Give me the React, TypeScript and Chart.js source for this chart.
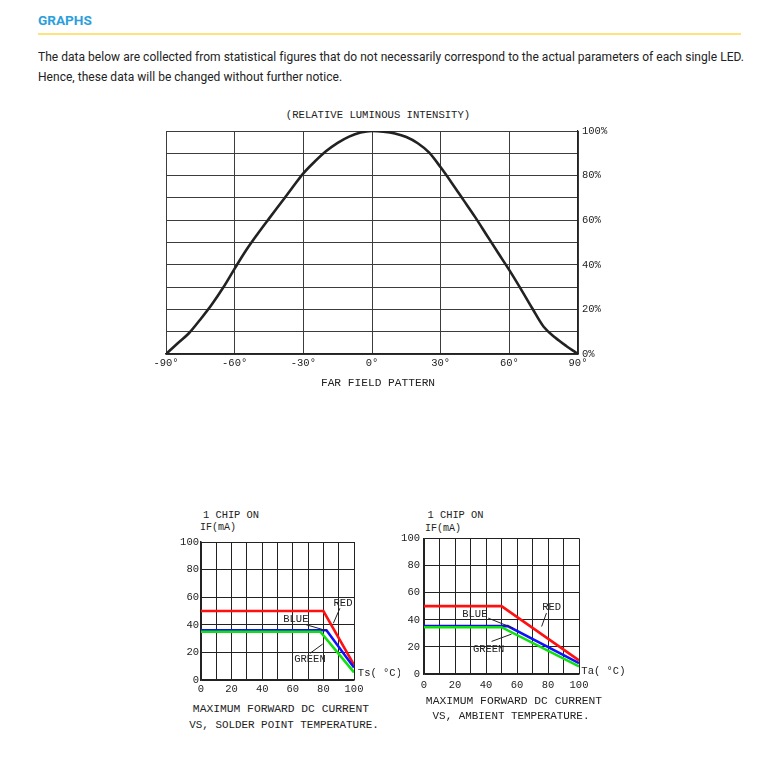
import React, { useEffect, useRef } from "react";
import { Chart, registerables } from "chart.js";

Chart.register(...registerables);

// ---------- DATA ----------
// Far field pattern (relative luminous intensity, %)
const farAngles = [-90, -85, -80, -75, -70, -65, -60, -55, -50, -45, -40, -35, -30, -25, -20, -15, -10, -5, 0,
  5, 10, 15, 20, 25, 30, 35, 40, 45, 50, 55, 60, 65, 70, 75, 80, 85, 90];
const farIntensity = [0, 4.7, 9.3, 15.5, 22.2, 29.8, 38.3, 46.5, 53.8, 60.7, 67.5, 74.3, 81, 86.3, 91, 94.7, 97.5, 99.3, 100,
  99.7, 98.9, 97.3, 94.5, 90.3, 83.7, 76.5, 69, 61.5, 53.5, 45.5, 37.6, 29.2, 20.5, 12.2, 7.4, 3.5, 0];
const farXTicks = [-90, -60, -30, 0, 30, 60, 90];
const farYLabelled = [0, 20, 40, 60, 80, 100];

// Max forward DC current vs solder point temperature (Ts, °C -> mA)
const tsRedX = [0, 80, 100];
const tsRedY = [50, 50, 11];
const tsBlueX = [0, 82, 100];
const tsBlueY = [36, 36, 9];
const tsGreenX = [0, 78, 100];
const tsGreenY = [35, 35, 5.5];

// Max forward DC current vs ambient temperature (Ta, °C -> mA)
const taRedX = [0, 50, 100];
const taRedY = [50, 50, 10];
const taBlueX = [0, 54, 100];
const taBlueY = [35.3, 35.3, 8];
const taGreenX = [0, 50, 100];
const taGreenY = [34.5, 34.5, 5.6];

const tempXLabelled = [0, 20, 40, 60, 80, 100];

// ---------- STYLE ----------
const MONO = '"Liberation Mono", "DejaVu Sans Mono", monospace';
const INK = "#222";
const RED = "#ff1010";
const BLUE = "#1010ff";
const GREEN = "#10e010";

const pts = (xs: number[], ys: number[]) => xs.map((x, i) => ({ x, y: ys[i] }));

const annotPlugin = {
  id: "annot",
  afterDatasetsDraw(chart: any, _a: any, opts: any) {
    const { ctx } = chart;
    const sx = chart.scales.x;
    const sy = chart.scales.y;
    ctx.save();
    ctx.strokeStyle = INK;
    ctx.fillStyle = INK;
    ctx.lineWidth = 1;
    for (const l of opts.leaders || []) {
      ctx.beginPath();
      ctx.moveTo(sx.getPixelForValue(l[0]), sy.getPixelForValue(l[1]));
      ctx.lineTo(sx.getPixelForValue(l[2]), sy.getPixelForValue(l[3]));
      ctx.stroke();
    }
    ctx.font = opts.font || `10.5px ${MONO}`;
    ctx.textBaseline = "middle";
    for (const t of opts.texts || []) {
      ctx.textAlign = t.align || "center";
      ctx.fillText(t.text, sx.getPixelForValue(t.x), sy.getPixelForValue(t.y));
    }
    ctx.restore();
  },
};

function useChart(make: () => any) {
  const ref = useRef<HTMLCanvasElement | null>(null);
  useEffect(() => {
    if (!ref.current) return;
    const c = new Chart(ref.current, make());
    return () => c.destroy();
  }, []);
  return ref;
}

function FarField() {
  const ref = useChart(() => ({
    type: "line",
    data: {
      datasets: [
        {
          data: pts(farAngles, farIntensity),
          borderColor: INK,
          borderWidth: 2.6,
          pointRadius: 0,
          cubicInterpolationMode: "monotone",
          fill: false,
        },
      ],
    },
    options: {
      responsive: false,
      animation: false,
      events: [],
      layout: { padding: { left: 26, top: 11, right: 0, bottom: 0 } },
      plugins: { legend: { display: false }, tooltip: { enabled: false } },
      scales: {
        x: {
          type: "linear",
          min: -90,
          max: 90,
          afterBuildTicks: (s: any) => {
            s.ticks = farXTicks.map((v) => ({ value: v }));
          },
          afterFit: (s: any) => {
            s.height = 31;
          },
          ticks: {
            autoSkip: false,
            maxRotation: 0,
            padding: 3,
            color: INK,
            font: { family: MONO, size: 10.5 },
            callback: (v: any) => `${v}°`,
          },
          grid: { color: "#3c3c3c", lineWidth: 1, drawTicks: false },
          border: { color: INK, width: 1.5 },
        },
        y: {
          position: "right",
          min: 0,
          max: 100,
          afterFit: (s: any) => {
            s.width = 42;
          },
          ticks: {
            stepSize: 10,
            padding: 4,
            color: INK,
            font: { family: MONO, size: 10.5 },
            callback: (v: any) => (farYLabelled.includes(v) ? `${v}%` : ""),
          },
          grid: { color: "#3c3c3c", lineWidth: 1, drawTicks: false },
          border: { color: INK, width: 1.2 },
        },
      },
    },
  }));
  return <canvas ref={ref} width={480} height={265} style={{ position: "absolute", left: 140, top: 120 }} />;
}

function Derating(props: {
  left: number;
  top: number;
  width: number;
  height: number;
  pad: { left: number; top: number; right: number };
  yw: number;
  xh: number;
  xPad: number;
  yPad: number;
  red: any[];
  blue: any[];
  green: any[];
  annot: any;
}) {
  const p = props;
  const ref = useChart(() => ({
    type: "line",
    data: {
      datasets: [
        { data: p.red, borderColor: RED, borderWidth: 2.6, pointRadius: 0, order: 2, tension: 0 },
        { data: p.blue, borderColor: BLUE, borderWidth: 2.6, pointRadius: 0, order: 1, tension: 0 },
        { data: p.green, borderColor: GREEN, borderWidth: 2.6, pointRadius: 0, order: 0, tension: 0 },
      ],
    },
    options: {
      responsive: false,
      animation: false,
      events: [],
      layout: { padding: { left: p.pad.left, top: p.pad.top, right: p.pad.right, bottom: 0 } },
      plugins: { legend: { display: false }, tooltip: { enabled: false }, annot: p.annot },
      scales: {
        x: {
          type: "linear",
          min: 0,
          max: 100,
          afterFit: (s: any) => {
            s.height = p.xh;
          },
          ticks: {
            stepSize: 10,
            autoSkip: false,
            maxRotation: 0,
            padding: p.xPad,
            color: INK,
            font: { family: MONO, size: 10.5 },
            callback: (v: any) => (tempXLabelled.includes(v) ? `${v}` : ""),
          },
          grid: { color: INK, lineWidth: 1, drawTicks: false },
          border: { color: INK, width: 1.5 },
        },
        y: {
          min: 0,
          max: 100,
          afterFit: (s: any) => {
            s.width = p.yw;
          },
          ticks: {
            stepSize: 20,
            padding: p.yPad,
            color: INK,
            font: { family: MONO, size: 10.5 },
          },
          grid: { color: INK, lineWidth: 1, drawTicks: false },
          border: { color: INK, width: 1.5 },
        },
      },
    },
    plugins: [annotPlugin],
  }));
  return (
    <canvas
      ref={ref}
      width={p.width}
      height={p.height}
      style={{ position: "absolute", left: p.left, top: p.top }}
    />
  );
}

const T = (props: { x: number; y: number; size?: number; children: any; align?: string }) => (
  <div
    style={{
      position: "absolute",
      left: props.x,
      top: props.y,
      transform: props.align === "left" ? "translate(0,-50%)" : "translate(-50%,-50%)",
      whiteSpace: "nowrap",
      fontFamily: MONO,
      fontSize: props.size || 11,
      color: INK,
      lineHeight: 1,
    }}
  >
    {props.children}
  </div>
);

export default function App() {
  return (
    <div
      style={{
        position: "absolute",
        left: 0,
        top: 0,
        width: 784,
        height: 762,
        background: "#fff",
        overflow: "hidden",
      }}
    >
      <div
        style={{
          position: "absolute",
          left: 38,
          top: 12,
          fontFamily: "Roboto, sans-serif",
          fontWeight: 700,
          fontSize: 13.6,
          color: "#2b9fdc",
          lineHeight: "16px",
        }}
      >
        GRAPHS
      </div>
      <div style={{ position: "absolute", left: 38, top: 33, width: 703, height: 2, background: "#ffe27e" }} />
      <div
        style={{
          position: "absolute",
          left: 38,
          top: 47,
          fontFamily: "Roboto, sans-serif",
          fontSize: 12,
          color: "#222",
          lineHeight: "20px",
          whiteSpace: "nowrap",
          letterSpacing: "0.03px",
        }}
      >
        The data below are collected from statistical figures that do not necessarily correspond to the actual
        parameters of each single LED.
        <br />
        Hence, these data will be changed without further notice.
      </div>

      <T x={378} y={115} size={10.6}>(RELATIVE LUMINOUS INTENSITY)</T>
      <FarField />
      <T x={378} y={384} size={11.2}>FAR FIELD PATTERN</T>

      <T x={231} y={515} size={10.4}>1 CHIP ON</T>
      <T x={218} y={528} size={10}>IF(mA)</T>
      <Derating
        left={165}
        top={530}
        width={235}
        height={170}
        pad={{ left: 6, top: 12, right: 46 }}
        yw={30}
        xh={20}
        xPad={3}
        yPad={2}
        red={pts(tsRedX, tsRedY)}
        blue={pts(tsBlueX, tsBlueY)}
        green={pts(tsGreenX, tsGreenY)}
        annot={{
          texts: [
            { text: "RED", x: 92.8, y: 55.6 },
            { text: "BLUE", x: 62, y: 43.7 },
            { text: "GREEN", x: 71.2, y: 15.4 },
            { text: "Ts( °C)", x: 102.5, y: 5.2, align: "left" },
          ],
          leaders: [
            [90.8, 52, 86.5, 41.1],
            [68, 40.3, 82.2, 35.7],
            [71.2, 19.3, 79.5, 26],
          ],
        }}
      />
      <T x={281} y={710} size={11.3}>MAXIMUM FORWARD DC CURRENT</T>
      <T x={284} y={725} size={10.9}>VS, SOLDER POINT TEMPERATURE.</T>

      <T x={455.5} y={515} size={10.4}>1 CHIP ON</T>
      <T x={443} y={529} size={10}>IF(mA)</T>
      <Derating
        left={392}
        top={528}
        width={235}
        height={165}
        pad={{ left: 2, top: 10, right: 48 }}
        yw={30}
        xh={19}
        xPad={5}
        yPad={4}
        red={pts(taRedX, taRedY)}
        blue={pts(taBlueX, taBlueY)}
        green={pts(taGreenX, taGreenY)}
        annot={{
          texts: [
            { text: "RED", x: 82.4, y: 49.1 },
            { text: "BLUE", x: 32.8, y: 44.2 },
            { text: "GREEN", x: 41.7, y: 18.5 },
            { text: "Ta( °C)", x: 101.5, y: 2.2, align: "left" },
          ],
          leaders: [
            [79, 44.9, 75.9, 35],
            [41.4, 41.2, 57.5, 33.8],
            [43.6, 24, 56.5, 29.4],
          ],
        }}
      />
      <T x={514} y={702} size={11.3}>MAXIMUM FORWARD DC CURRENT</T>
      <T x={511} y={716} size={10.9}>VS, AMBIENT TEMPERATURE.</T>
    </div>
  );
}
